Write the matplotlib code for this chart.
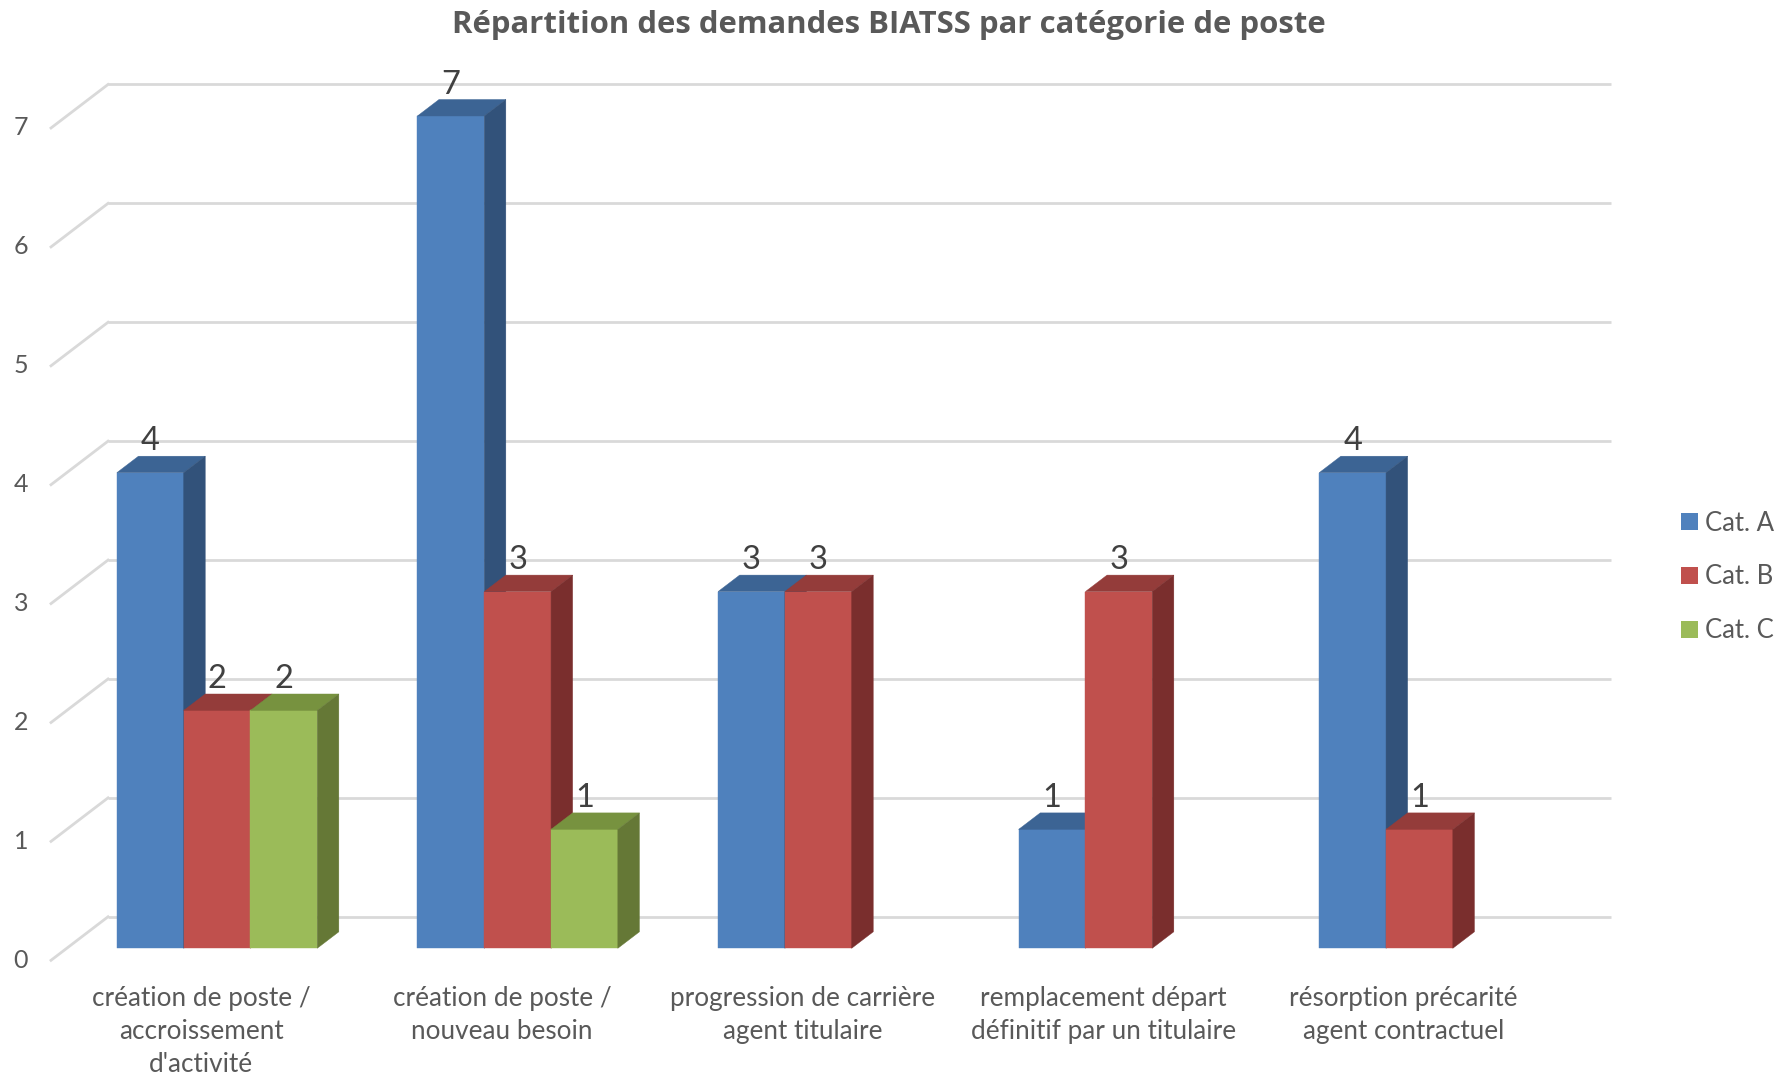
import matplotlib
matplotlib.use("Agg")
import matplotlib.pyplot as plt
from matplotlib.patches import Patch
import numpy as np

# data
categories = ["création de poste /\naccroissement\nd'activité",
              "création de poste /\nnouveau besoin",
              "progression de carrière\nagent titulaire",
              "remplacement départ\ndéfinitif par un titulaire",
              "résorption précarité\nagent contractuel"]
series_names = ["Cat. A", "Cat. B", "Cat. C"]
cat_a = [4, 7, 3, 1, 4]
cat_b = [2, 3, 3, 3, 1]
cat_c = [2, 1, 0, 0, 0]
y_ticks = [0, 1, 2, 3, 4, 5, 6, 7]

front_cols = ["#4F81BD", "#C0504D", "#9BBB59"]
top_cols = ["#3C6494", "#943C3A", "#77923F"]
side_cols = ["#32527A", "#7A2E2D", "#657836"]
grid_col = "#D9D9D9"
text_col = "#595959"

# oblique "3D" projection, in data units
DX, DY = 0.1896, 0.366     # full depth of the floor
T0, T1 = 0.276, 0.655      # bars sit between these depth fractions
W = 1 / 4.5                # bar width (gap width 150%)
PX = 118.8                 # pixels per value unit

FONT = "Lato"

fig = plt.figure(figsize=(17.82, 10.77), dpi=100)
ax = fig.add_axes([0, 0, 1, 1])
ax.set_xlim(-0.6697, 5.2585)
ax.set_ylim(-0.9815, 8.0765)
ax.axis("off")

n = len(categories)
x = np.arange(n)

# back wall gridlines + left wall diagonals
for v in y_ticks:
    ax.plot([-0.5 + DX, n - 0.5 + DX], [v + DY, v + DY], color=grid_col, lw=2, zorder=1,
            solid_capstyle="butt")
    ax.plot([-0.5, -0.5 + DX], [v, v + DY], color=grid_col, lw=2, zorder=1)
    ax.text(-0.5765, v, str(v), ha="right", va="center", fontsize=18, color=text_col,
            family=FONT)

# bars
all_vals = [cat_a, cat_b, cat_c]
for s, vals in enumerate(all_vals):
    vals = np.array(vals, dtype=float)
    lefts = x - 1.5 * W + s * W + T0 * DX
    mask = vals > 0
    ax.bar(lefts[mask], vals[mask], width=W, bottom=T0 * DY, align="edge",
           color=front_cols[s], edgecolor=front_cols[s], lw=0.3, zorder=2 + s)
    d = (T1 - T0)
    for xl, v in zip(lefts[mask], vals[mask]):
        b = T0 * DY
        xr = xl + W
        top = [(xl, b + v), (xr, b + v), (xr + d * DX, b + v + d * DY), (xl + d * DX, b + v + d * DY)]
        side = [(xr, b), (xr + d * DX, b + d * DY), (xr + d * DX, b + v + d * DY), (xr, b + v)]
        ax.fill(*zip(*top), color=top_cols[s], lw=0.3, zorder=2.5 + s)
        ax.fill(*zip(*side), color=side_cols[s], lw=0.3, zorder=2.5 + s)
        ax.text(xl + W / 2, b + v + d * DY + 0.05, "%d" % v, ha="center", va="baseline",
                fontsize=23.5, color="#404040", family=FONT, zorder=10)

# category labels
for i, lab in enumerate(categories):
    ax.text(i, (960 - 986) / PX, lab, ha="center", va="top", fontsize=18.8,
            color=text_col, family=FONT, linespacing=1.4)

# legend
handles = [Patch(facecolor=c, edgecolor="none") for c in front_cols]
fig.legend(handles, series_names, loc="center left", bbox_to_anchor=(1681 / 1782, 1 - 577 / 1077),
           frameon=False, handlelength=0.65, handleheight=0.65,
           handletextpad=0.3, labelspacing=1.12, borderpad=0, borderaxespad=0,
           prop={"family": FONT, "size": 18.5}, labelcolor=text_col)

fig.text(889 / 1782, 1 - 33 / 1077, "Répartition des demandes BIATSS par catégorie de poste",
         ha="center", va="baseline", fontsize=22.4, fontweight="bold", color=text_col,
         family="Open Sans")

fig.savefig("out.png", dpi=100)
